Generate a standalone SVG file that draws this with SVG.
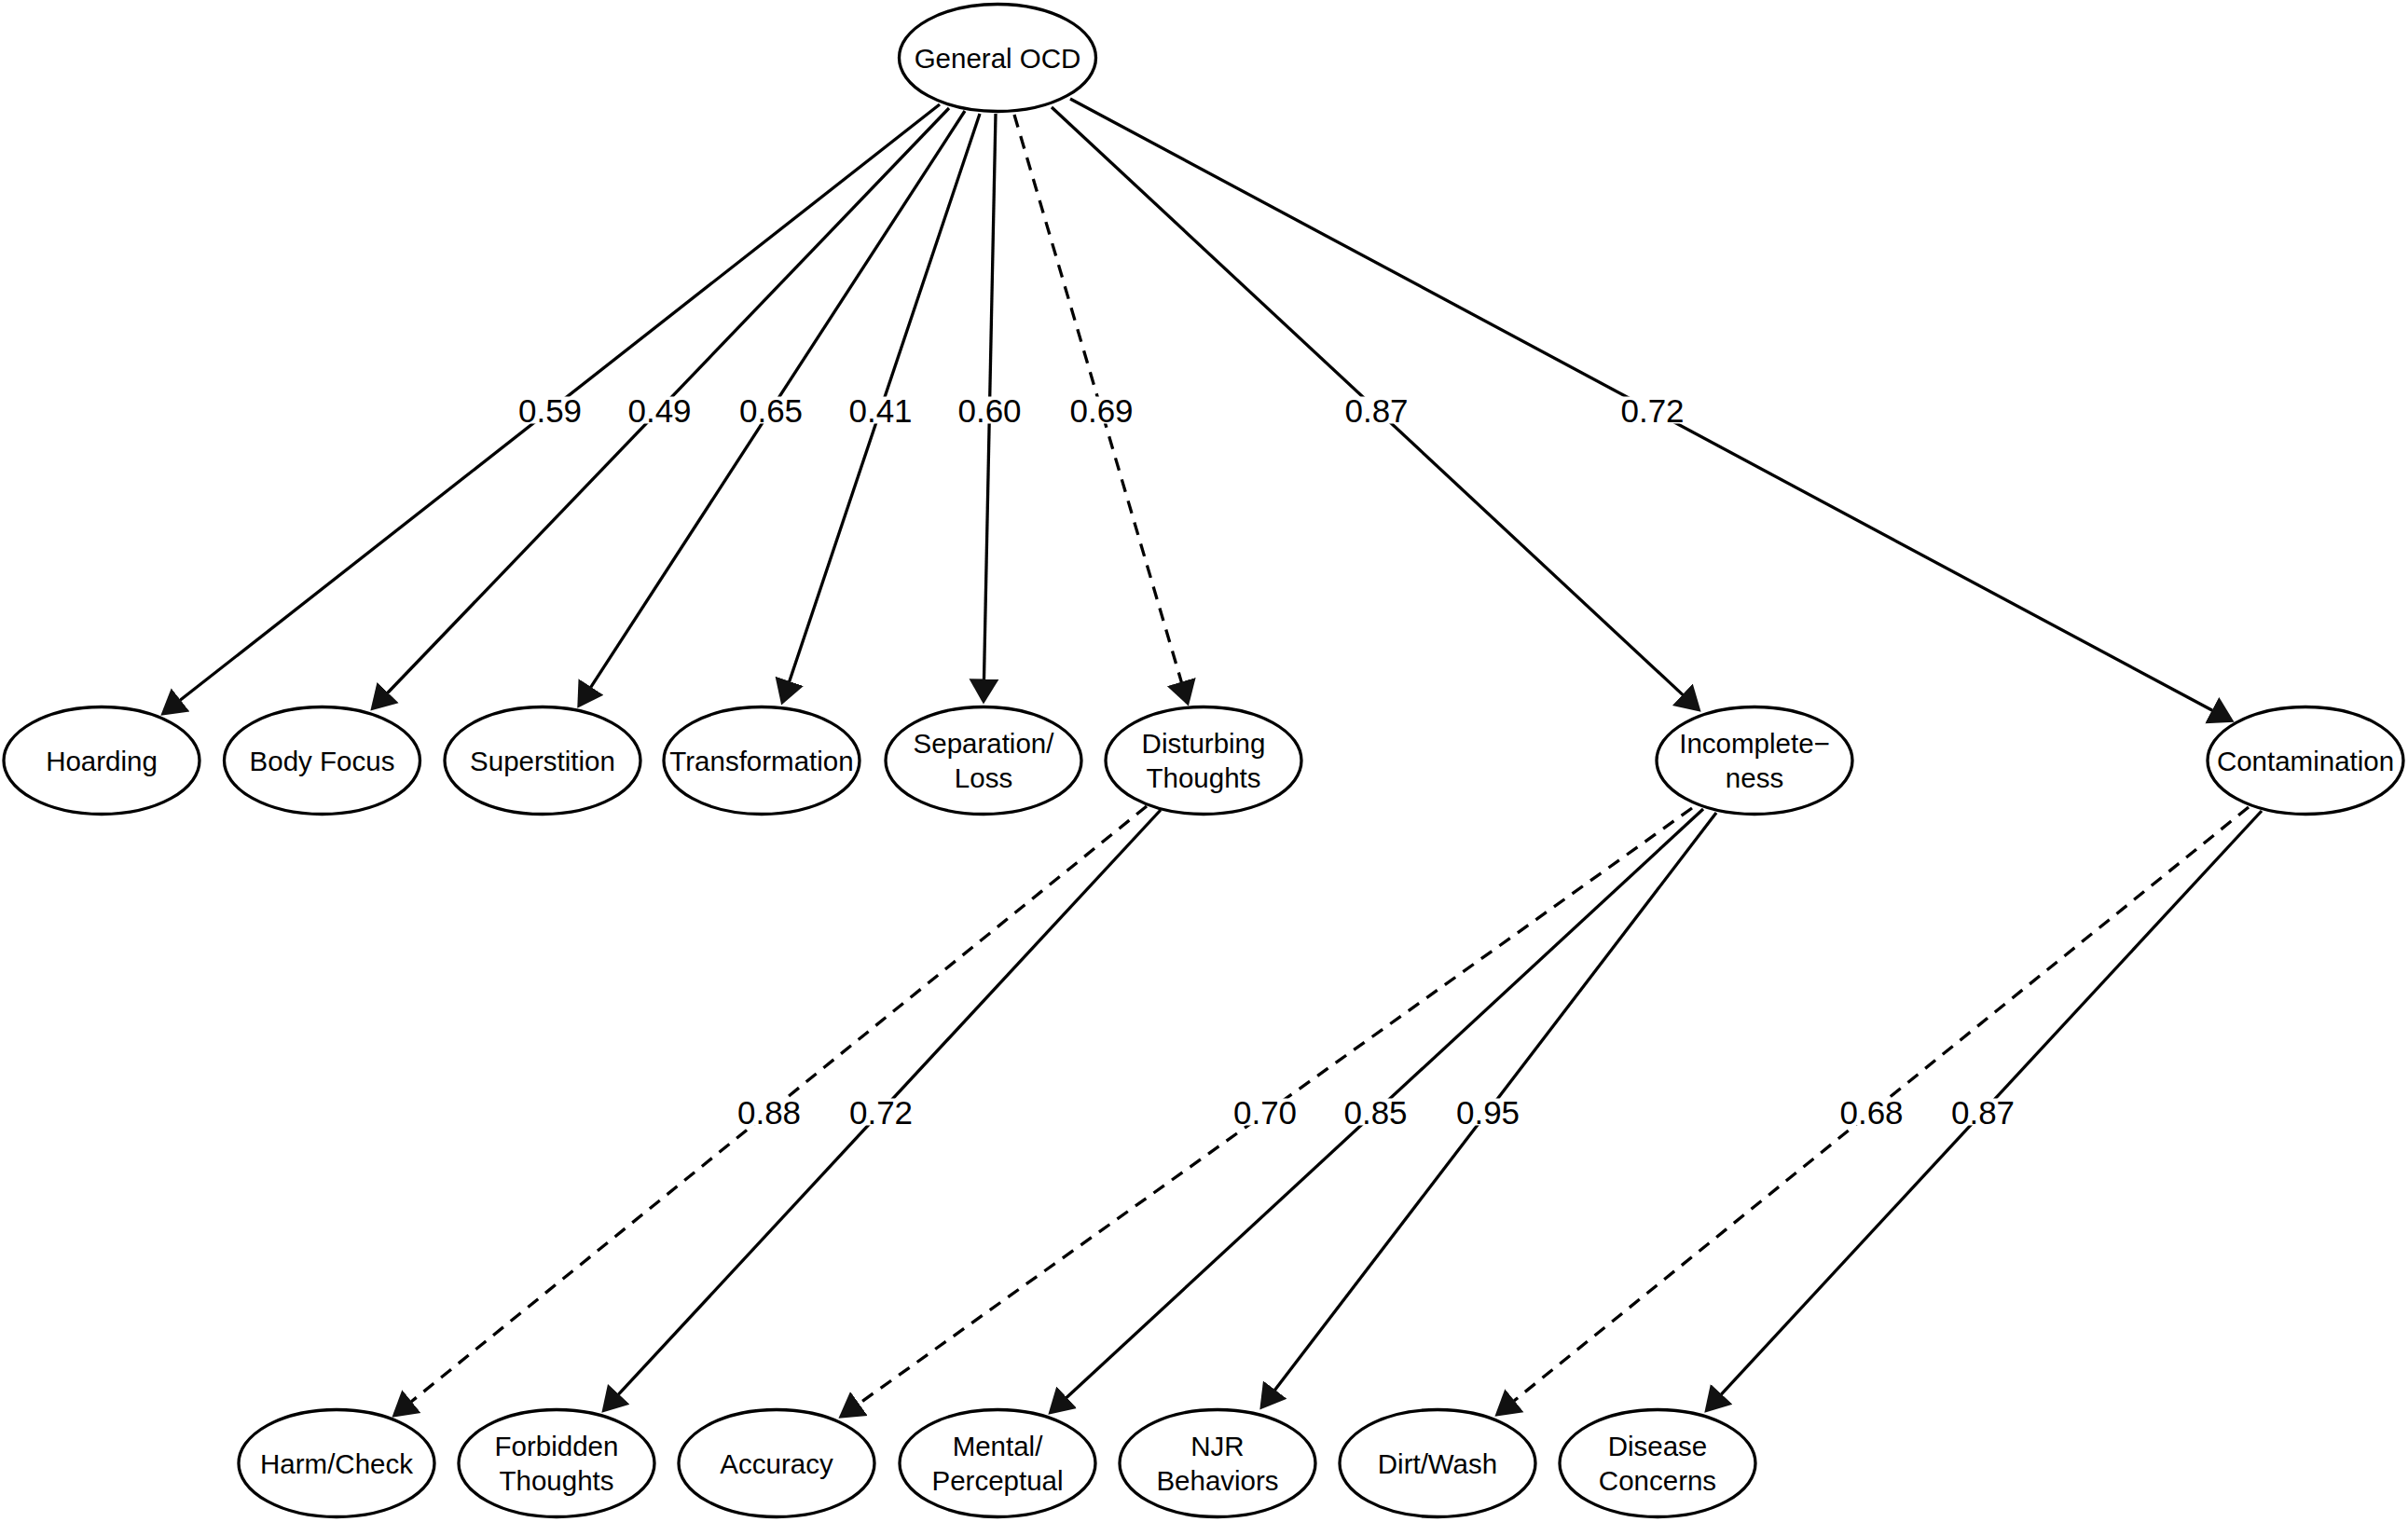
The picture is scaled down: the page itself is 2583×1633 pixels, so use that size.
<svg xmlns="http://www.w3.org/2000/svg" width="2583" height="1633" viewBox="0 0 2583 1633">
<style>
.e{fill:#fff;stroke:#000;stroke-width:3.3}
.t{font-family:"Liberation Sans",Arial,Helvetica,sans-serif;font-size:29.5px;text-anchor:middle;fill:#000}
.l{font-family:"Liberation Sans",Arial,Helvetica,sans-serif;font-size:35px;text-anchor:middle;fill:#000}
.c{stroke:#000;stroke-width:3.3;fill:none;marker-end:url(#arr)}
.d{stroke-dasharray:14 10}
.bg{fill:#fff}
</style>
<defs>
<marker id="arr" markerUnits="userSpaceOnUse" markerWidth="30" markerHeight="36" viewBox="0 -18 30 36" refX="0.5" refY="0" orient="auto">
<path d="M0,-16 L27,0 L0,16 Z" fill="#111"/>
</marker>
</defs>
<rect width="2583" height="1633" fill="#fff"/>
<g id="connectors">
<line class="c" x1="1008" y1="112" x2="193.2" y2="751.3"/>
<line class="c" x1="1018" y1="116" x2="415.7" y2="743.5"/>
<line class="c" x1="1035" y1="119" x2="633.7" y2="737.4"/>
<line class="c" x1="1051" y1="122" x2="846.6" y2="731.4"/>
<line class="c" x1="1068" y1="122" x2="1055.5" y2="729"/>
<line class="c d" x1="1088" y1="123" x2="1267.4" y2="732.1"/>
<line class="c" x1="1128" y1="115" x2="1805.2" y2="745.6"/>
<line class="c" x1="1148" y1="106" x2="2373.2" y2="762.3"/>
<line class="c d" x1="1230" y1="865" x2="441" y2="1504"/>
<line class="c" x1="1245" y1="869" x2="663.4" y2="1496.2"/>
<line class="c d" x1="1815" y1="867" x2="921" y2="1506.3"/>
<line class="c" x1="1827" y1="868" x2="1143.8" y2="1499.7"/>
<line class="c" x1="1841" y1="872" x2="1367.4" y2="1491.5"/>
<line class="c d" x1="2412" y1="866" x2="1624" y2="1503"/>
<line class="c" x1="2426" y1="870" x2="1846.3" y2="1496.2"/>
<g id="edge-labels">
<rect class="bg" x="555" y="425.5" width="70" height="29"/><text class="l" x="590" y="453">0.59</text>
<rect class="bg" x="672.5" y="425.5" width="70" height="29"/><text class="l" x="707.5" y="453">0.49</text>
<rect class="bg" x="792" y="425.5" width="70" height="29"/><text class="l" x="827" y="453">0.65</text>
<rect class="bg" x="909.5" y="425.5" width="70" height="29"/><text class="l" x="944.5" y="453">0.41</text>
<rect class="bg" x="1026.5" y="425.5" width="70" height="29"/><text class="l" x="1061.5" y="453">0.60</text>
<rect class="bg" x="1146.5" y="425.5" width="70" height="29"/><text class="l" x="1181.5" y="453">0.69</text>
<rect class="bg" x="1441.5" y="425.5" width="70" height="29"/><text class="l" x="1476.5" y="453">0.87</text>
<rect class="bg" x="1737.5" y="425.5" width="70" height="29"/><text class="l" x="1772.5" y="453">0.72</text>
<rect class="bg" x="790" y="1178.5" width="70" height="29"/><text class="l" x="825" y="1206">0.88</text>
<rect class="bg" x="910" y="1178.5" width="70" height="29"/><text class="l" x="945" y="1206">0.72</text>
<rect class="bg" x="1322" y="1178.5" width="70" height="29"/><text class="l" x="1357" y="1206">0.70</text>
<rect class="bg" x="1440.5" y="1178.5" width="70" height="29"/><text class="l" x="1475.5" y="1206">0.85</text>
<rect class="bg" x="1561" y="1178.5" width="70" height="29"/><text class="l" x="1596" y="1206">0.95</text>
<rect class="bg" x="1972.5" y="1178.5" width="70" height="29"/><text class="l" x="2007.5" y="1206">0.68</text>
<rect class="bg" x="2092" y="1178.5" width="70" height="29"/><text class="l" x="2127" y="1206">0.87</text>
</g>
</g>
<g id="general-ocd"><ellipse class="e" cx="1070" cy="62" rx="105.5" ry="57.5"/><text class="t" x="1070" y="72.5">General OCD</text></g>
<g id="hoarding"><ellipse class="e" cx="109" cy="816" rx="105" ry="57.5"/><text class="t" x="109" y="826.5">Hoarding</text></g>
<g id="body-focus"><ellipse class="e" cx="345.5" cy="816" rx="105" ry="57.5"/><text class="t" x="345.5" y="826.5">Body Focus</text></g>
<g id="superstition"><ellipse class="e" cx="582" cy="816" rx="105" ry="57.5"/><text class="t" x="582" y="826.5">Superstition</text></g>
<g id="transformation"><ellipse class="e" cx="817" cy="816" rx="105" ry="57.5"/><text class="t" x="817" y="826.5">Transformation</text></g>
<g id="separation-loss"><ellipse class="e" cx="1055" cy="816" rx="105" ry="57.5"/><text class="t" x="1055" y="808">Separation/</text><text class="t" x="1055" y="845">Loss</text></g>
<g id="disturbing-thoughts"><ellipse class="e" cx="1291" cy="816" rx="105" ry="57.5"/><text class="t" x="1291" y="808">Disturbing</text><text class="t" x="1291" y="845">Thoughts</text></g>
<g id="incompleteness"><ellipse class="e" cx="1882" cy="816" rx="105" ry="57.5"/><text class="t" x="1882" y="808">Incomplete−</text><text class="t" x="1882" y="845">ness</text></g>
<g id="contamination"><ellipse class="e" cx="2473" cy="816" rx="105" ry="57.5"/><text class="t" x="2473" y="826.5">Contamination</text></g>
<g id="harm-check"><ellipse class="e" cx="361" cy="1570" rx="105" ry="57.5"/><text class="t" x="361" y="1580.5">Harm/Check</text></g>
<g id="forbidden-thoughts"><ellipse class="e" cx="597" cy="1570" rx="105" ry="57.5"/><text class="t" x="597" y="1562">Forbidden</text><text class="t" x="597" y="1599">Thoughts</text></g>
<g id="accuracy"><ellipse class="e" cx="833" cy="1570" rx="105" ry="57.5"/><text class="t" x="833" y="1580.5">Accuracy</text></g>
<g id="mental-perceptual"><ellipse class="e" cx="1070" cy="1570" rx="105" ry="57.5"/><text class="t" x="1070" y="1562">Mental/</text><text class="t" x="1070" y="1599">Perceptual</text></g>
<g id="njr-behaviors"><ellipse class="e" cx="1306" cy="1570" rx="105" ry="57.5"/><text class="t" x="1306" y="1562">NJR</text><text class="t" x="1306" y="1599">Behaviors</text></g>
<g id="dirt-wash"><ellipse class="e" cx="1542" cy="1570" rx="105" ry="57.5"/><text class="t" x="1542" y="1580.5">Dirt/Wash</text></g>
<g id="disease-concerns"><ellipse class="e" cx="1778" cy="1570" rx="105" ry="57.5"/><text class="t" x="1778" y="1562">Disease</text><text class="t" x="1778" y="1599">Concerns</text></g>
</svg>
